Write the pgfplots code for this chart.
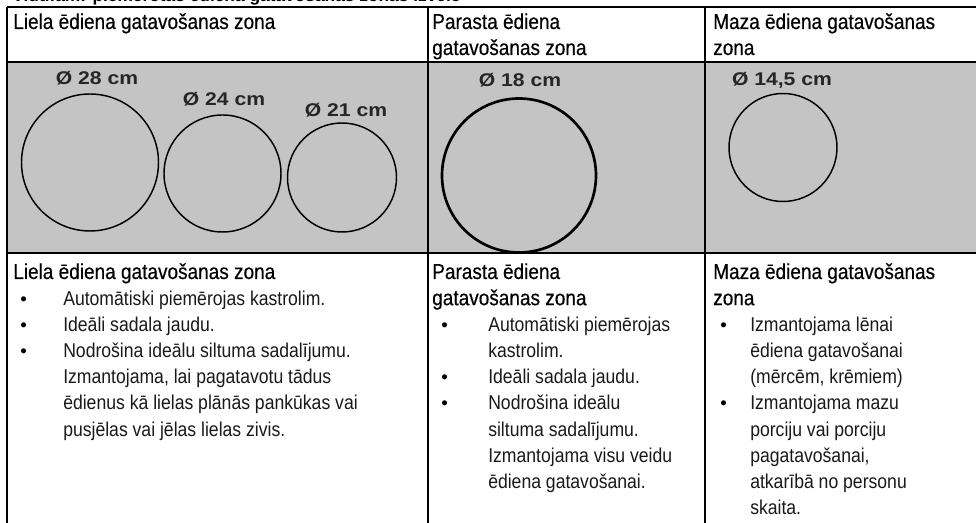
\documentclass[border=0pt]{standalone}
\usepackage{pgfplots}
\pgfplotsset{compat=1.18}
\usepackage{fontspec}
\setmainfont{Liberation Sans}
\newfontfamily\headfont{Liberation Sans}[FakeStretch=0.88, FakeBold=0.4]
\newfontfamily\bodyfont{Liberation Sans}[FakeStretch=0.88]
\newfontfamily\labfont{Liberation Sans Bold}[FakeStretch=1.15]
\definecolor{halftone}{RGB}{196,196,196}
\newcommand{\hd}[3]{\node[anchor=base west,inner sep=0pt,font=\headfont\fontsize{16.2pt}{18pt}\selectfont] at (axis cs:#1,#2) {#3};}
\newcommand{\bd}[3]{\node[anchor=base west,inner sep=0pt,text=black!90,font=\bodyfont\fontsize{15pt}{17pt}\selectfont] at (axis cs:#1,#2) {#3};}
\newcommand{\bl}[2]{\node[anchor=base west,inner sep=0pt,font=\fontsize{14pt}{16pt}\selectfont] at (axis cs:#1,#2) {•};}
\newcommand{\lab}[3]{\node[anchor=center,inner sep=0pt,text=black!85,font=\labfont\fontsize{13.8pt}{16pt}\selectfont] at (axis cs:#1,#2) {#3};}
\begin{document}
\begin{tikzpicture}
\begin{axis}[scale only axis, width=732pt, height=392.25pt,
  xmin=0, xmax=976, ymin=0, ymax=523, y dir=reverse, hide axis, clip=false]
\begin{scope}
\clip (axis cs:0,0) rectangle (axis cs:976,523);
\fill[halftone] (axis cs:7,62) rectangle (axis cs:985,253);
% table rules
\draw[line width=1.1pt] (axis cs:7,7) -- (axis cs:985,7);
\draw[line width=1.1pt] (axis cs:7,62) -- (axis cs:985,62);
\draw[line width=1.1pt] (axis cs:7,253) -- (axis cs:985,253);
\draw[line width=1.1pt] (axis cs:7,7) -- (axis cs:7,530);
\draw[line width=1.1pt] (axis cs:428,7) -- (axis cs:428,530);
\draw[line width=0.9pt] (axis cs:705,7) -- (axis cs:705,530);
% cut-off caption
\node[anchor=base west,inner sep=0pt,font=\bfseries\fontsize{13pt}{15pt}\selectfont] at (axis cs:12,2) {Vidufam: piemērotas ēdiena gatavošanas zonas izvēle};
% header row
\hd{13}{29}{Liela ēdiena gatavošanas zona}
\hd{432}{29}{Parasta ēdiena}
\hd{432}{55}{gatavošanas zona}
\hd{713}{29}{Maza ēdiena gatavošanas}
\hd{713}{55}{zona}
% circle labels
\lab{97}{78}{Ø 28 cm}
\lab{224}{99}{Ø 24 cm}
\lab{346}{110}{Ø 21 cm}
\lab{520}{80}{Ø 18 cm}
\lab{782}{80}{Ø 14,5 cm}
% bottom row: Liela
\hd{13}{279}{Liela ēdiena gatavošanas zona}
\bl{20}{305.2}\bd{63}{305.2}{Automātiski piemērojas kastrolim.}
\bl{20}{331.4}\bd{63}{331.4}{Ideāli sadala jaudu.}
\bl{20}{357.6}\bd{63}{357.6}{Nodrošina ideālu siltuma sadalījumu.}
\bd{63}{383.8}{Izmantojama, lai pagatavotu tādus}
\bd{63}{410}{ēdienus kā lielas plānās pankūkas vai}
\bd{63}{436.2}{pusjēlas vai jēlas lielas zivis.}
% Parasta
\hd{432}{279}{Parasta ēdiena}
\hd{432}{305.2}{gatavošanas zona}
\bl{441}{331.4}\bd{488}{331.4}{Automātiski piemērojas}
\bd{488}{357.6}{kastrolim.}
\bl{441}{383.8}\bd{488}{383.8}{Ideāli sadala jaudu.}
\bl{441}{410}\bd{488}{410}{Nodrošina ideālu}
\bd{488}{436.2}{siltuma sadalījumu.}
\bd{488}{462.4}{Izmantojama visu veidu}
\bd{488}{488.6}{ēdiena gatavošanai.}
% Maza
\hd{713}{279}{Maza ēdiena gatavošanas}
\hd{713}{305.2}{zona}
\bl{720}{331.4}\bd{750}{331.4}{Izmantojama lēnai}
\bd{750}{357.6}{ēdiena gatavošanai}
\bd{750}{383.8}{(mērcēm, krēmiem)}
\bl{720}{410}\bd{750}{410}{Izmantojama mazu}
\bd{750}{436.2}{porciju vai porciju}
\bd{750}{462.4}{pagatavošanai,}
\bd{750}{488.6}{atkarībā no personu}
\bd{750}{514.8}{skaita.}
\end{scope}
% circles (centre x, centre y, radius in px)
\addplot[only marks, mark=o, line width=1.1pt, scatter,
  scatter/use mapped color={draw=black, fill=none},
  visualization depends on={0.75*\thisrow{r} \as \rad},
  scatter/@pre marker code/.append style={/tikz/mark size=\rad}]
  table {
x y r
90 162.5 68.5
222.5 173.5 58.5
342 177.5 54.5
783 147.5 54
};
\addplot[only marks, mark=o, line width=2pt, scatter,
  scatter/use mapped color={draw=black, fill=none},
  visualization depends on={0.75*\thisrow{r} \as \rad},
  scatter/@pre marker code/.append style={/tikz/mark size=\rad}]
  table {
x y r
519 175.5 77
};
\end{axis}
\pgfresetboundingbox
\path[use as bounding box] (current axis.south west) rectangle (current axis.north east);
\end{tikzpicture}
\end{document}
